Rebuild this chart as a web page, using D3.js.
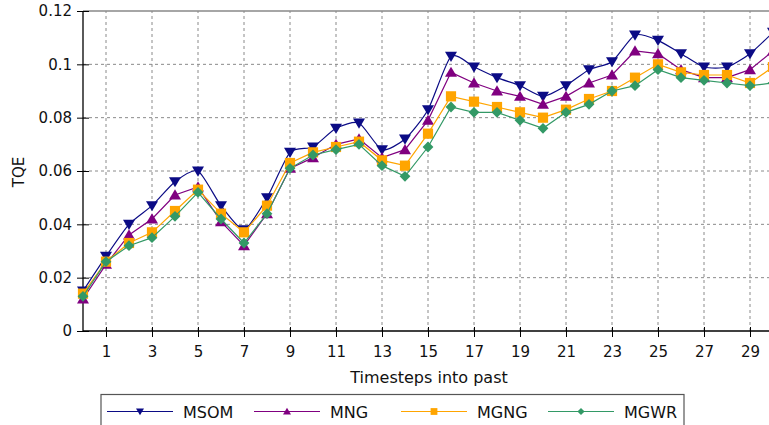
<!DOCTYPE html>
<html>
<head>
<meta charset="utf-8">
<script src="https://cdn.jsdelivr.net/npm/d3@7"></script>
<style>
  html, body { margin: 0; padding: 0; background: #fff; overflow: hidden; }
  text { font-family: "DejaVu Sans", sans-serif; fill: #111; }
</style>
</head>
<body>
<script>
// timesteps 0..30
const steps = d3.range(0, 31);
const msom = [0.015, 0.028, 0.040, 0.047, 0.056, 0.060, 0.047, 0.038, 0.050, 0.067,
  0.069, 0.076, 0.078, 0.068, 0.072, 0.083, 0.103, 0.099, 0.095, 0.092,
  0.088, 0.092, 0.098, 0.101, 0.111, 0.109, 0.104, 0.099, 0.099, 0.104, 0.112];
const mng = [0.012, 0.025, 0.036, 0.042, 0.051, 0.054, 0.041, 0.032, 0.044, 0.061,
  0.065, 0.070, 0.072, 0.065, 0.068, 0.079, 0.097, 0.093, 0.090, 0.088,
  0.085, 0.088, 0.093, 0.096, 0.105, 0.104, 0.098, 0.095, 0.095, 0.098, 0.105];
const mgng = [0.014, 0.026, 0.033, 0.037, 0.045, 0.053, 0.044, 0.037, 0.047, 0.063,
  0.067, 0.069, 0.071, 0.064, 0.062, 0.074, 0.088, 0.086, 0.084, 0.082,
  0.080, 0.083, 0.087, 0.090, 0.095, 0.100, 0.097, 0.096, 0.096, 0.093, 0.099];
const mgwr = [0.013, 0.026, 0.032, 0.035, 0.043, 0.052, 0.042, 0.033, 0.044, 0.061,
  0.066, 0.068, 0.070, 0.062, 0.058, 0.069, 0.084, 0.082, 0.082, 0.079,
  0.076, 0.082, 0.085, 0.090, 0.092, 0.098, 0.095, 0.094, 0.093, 0.092, 0.093];
const seriesNames = ["MSOM", "MNG", "MGNG", "MGWR"];
const xTicks = [1, 3, 5, 7, 9, 11, 13, 15, 17, 19, 21, 23, 25, 27, 29];
const yTicks = [0, 0.02, 0.04, 0.06, 0.08, 0.1, 0.12];

const series = [
  { name: seriesNames[0], values: msom, color: "#0b0b85", symbol: "tri-down", smooth: true },
  { name: seriesNames[1], values: mng, color: "#800080", symbol: "tri-up", smooth: false },
  { name: seriesNames[2], values: mgng, color: "#ffa500", symbol: "square", smooth: false },
  { name: seriesNames[3], values: mgwr, color: "#339966", symbol: "diamond", smooth: false }
];

const W = 769, H = 425;
const svg = d3.select("body").append("svg").attr("width", W).attr("height", H);

const x = d3.scaleLinear().domain([0, 30]).range([83, 773]);
const y = d3.scaleLinear().domain([0, 0.12]).range([331, 11]);

/** grid */
const grid = svg.append("g").attr("stroke", "#8a8a8a").attr("stroke-width", 1)
  .attr("stroke-dasharray", "3,3");
grid.selectAll("line.v").data(xTicks).enter().append("line")
  .attr("x1", d => x(d)).attr("x2", d => x(d)).attr("y1", y(0)).attr("y2", y(0.12));
grid.selectAll("line.h").data(yTicks.filter(d => d > 0 && d < 0.12)).enter().append("line")
  .attr("x1", x(0)).attr("x2", W).attr("y1", d => y(d)).attr("y2", d => y(d));

// top edge
svg.append("line").attr("x1", x(0)).attr("x2", W).attr("y1", y(0.12)).attr("y2", y(0.12))
  .attr("stroke", "#888").attr("stroke-width", 1.6);

/** axes */
const xAxis = d3.axisBottom(x).tickValues(xTicks).tickFormat(d3.format("d"))
  .tickSizeInner(6).tickSizeOuter(0).tickPadding(9);
const gx = svg.append("g").attr("transform", "translate(0," + y(0) + ")").call(xAxis);
gx.select(".domain").remove();
gx.selectAll(".tick line").attr("y1", -4).attr("stroke", "#000");
gx.selectAll(".tick text").style("font-size", "15px").style("font-family", "DejaVu Sans").attr("fill", "#111");
svg.append("line").attr("x1", x(0)).attr("x2", W).attr("y1", y(0)).attr("y2", y(0))
  .attr("stroke", "#000").attr("stroke-width", 1.3);

const yAxis = d3.axisLeft(y).tickValues(yTicks).tickFormat(d => d === 0 ? "0" : d3.format("~g")(d))
  .tickSizeInner(6).tickSizeOuter(0).tickPadding(5);
const gy = svg.append("g").attr("transform", "translate(" + x(0) + ",0)").call(yAxis);
gy.select(".domain").remove();
gy.selectAll(".tick line").attr("x2", -6).attr("x1", 6).attr("stroke", "#000");
gy.selectAll(".tick text").style("font-size", "15px").style("font-family", "DejaVu Sans").attr("fill", "#111");
svg.append("line").attr("x1", x(0)).attr("x2", x(0)).attr("y1", y(0)).attr("y2", y(0.12))
  .attr("stroke", "#000").attr("stroke-width", 1.3);

/** axis labels */
svg.append("text").attr("x", 429).attr("y", 383).attr("text-anchor", "middle")
  .style("font-size", "16px").text("Timesteps into past");
svg.append("text").attr("transform", "translate(24,172) rotate(-90)").attr("text-anchor", "middle")
  .style("font-size", "15px").text("TQE");

/** markers */
function markerPath(sym, s) {
  if (sym === "tri-down") return `M${-s},${-s * 0.75}L${s},${-s * 0.75}L0,${s * 0.95}Z`;
  if (sym === "tri-up") return `M${-s},${s * 0.75}L${s},${s * 0.75}L0,${-s * 0.95}Z`;
  if (sym === "square") return `M${-s * 0.85},${-s * 0.85}H${s * 0.85}V${s * 0.85}H${-s * 0.85}Z`;
  return `M0,${-s * 0.9}L${s * 0.9},0L0,${s * 0.9}L${-s * 0.9},0Z`;
}

/** lines */
series.forEach(s => {
  const line = d3.line()
    .x((d, i) => x(steps[i]))
    .y(d => y(d))
    .curve(s.smooth ? d3.curveCardinal.tension(0.35) : d3.curveLinear);
  svg.append("path").datum(s.values).attr("d", line)
    .attr("fill", "none").attr("stroke", s.color).attr("stroke-width", 1.2);
  svg.append("g").selectAll("path").data(s.values).enter().append("path")
    .attr("transform", (d, i) => "translate(" + x(steps[i]) + "," + y(d) + ")")
    .attr("d", markerPath(s.symbol, 6))
    .attr("fill", s.color);
});

/** legend */
const legend = svg.append("g").attr("transform", "translate(101,394.5)");
legend.append("rect").attr("width", 583).attr("height", 40)
  .attr("fill", "#fff").attr("stroke", "#555").attr("stroke-width", 1.2);
series.forEach((s, i) => {
  const g = legend.append("g").attr("transform", "translate(" + (6 + i * 147) + ",17)");
  g.append("line").attr("x1", 0).attr("x2", 66).attr("stroke", s.color).attr("stroke-width", 1.2);
  g.append("path").attr("transform", "translate(33,0)").attr("d", markerPath(s.symbol, 4))
    .attr("fill", s.color);
  g.append("text").attr("x", 76).attr("y", 6).style("font-size", "16px").text(s.name);
});
</script>
</body>
</html>
